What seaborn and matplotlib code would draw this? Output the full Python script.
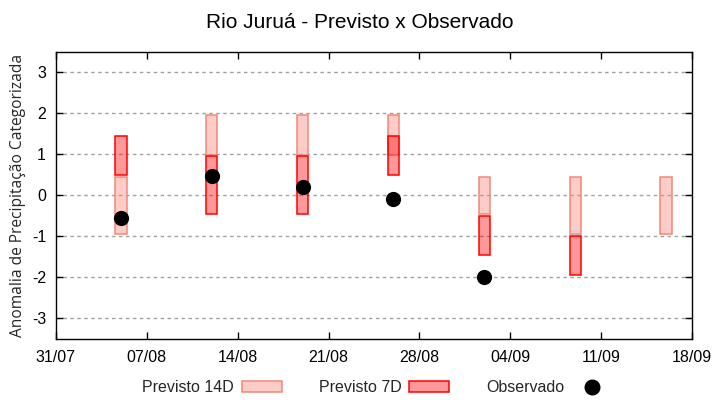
import numpy as np
import pandas as pd
import matplotlib
matplotlib.use("Agg")
import matplotlib.pyplot as plt
from matplotlib.patches import Patch
from matplotlib.lines import Line2D
import seaborn as sns

# ---- data ----
dates = ["2024-08-05", "2024-08-12", "2024-08-19", "2024-08-26",
         "2024-09-02", "2024-09-09", "2024-09-16"]
p14_low = [-0.95, 0.98, 0.98, 0.98, -0.45, -0.95, -0.95]
p14_high = [0.45, 1.95, 1.95, 1.95, 0.45, 0.45, 0.45]
p7_low = [0.50, -0.45, -0.45, 0.50, -1.45, -1.95, np.nan]
p7_high = [1.45, 0.95, 0.95, 1.45, -0.50, -1.00, np.nan]
observado = [-0.55, 0.48, 0.20, -0.10, -2.00, np.nan, np.nan]
xtick_labels = ["31/07", "07/08", "14/08", "21/08", "28/08", "04/09", "11/09", "18/09"]
xtick_dates = ["2024-07-31", "2024-08-07", "2024-08-14", "2024-08-21",
               "2024-08-28", "2024-09-04", "2024-09-11", "2024-09-18"]
yticks = [-3, -2, -1, 0, 1, 2, 3]

df = pd.DataFrame({
    "data": pd.to_datetime(dates),
    "p14_low": p14_low, "p14_high": p14_high,
    "p7_low": p7_low, "p7_high": p7_high,
    "obs": observado,
})

sns.set_theme(style="white")
plt.rcParams["font.family"] = ["Liberation Sans", "DejaVu Sans"]

fig = plt.figure(figsize=(7.2, 4.0), dpi=100)
ax = fig.add_axes([0.0774, 0.1533, 0.8841, 0.7175])

light_fill = (250/255, 128/255, 114/255, 0.4)
light_edge = "#F08878"
red_fill = (1.0, 0.0, 0.0, 0.4)
red_edge = "#FF0000"
w = 0.9

ax.bar(df["data"], df["p14_high"] - df["p14_low"], bottom=df["p14_low"], width=w,
       color=light_fill, edgecolor=light_edge, linewidth=1.1, zorder=3)
ax.bar(df["data"], df["p7_high"] - df["p7_low"], bottom=df["p7_low"], width=w,
       color=red_fill, edgecolor=red_edge, linewidth=1.1, zorder=4)
sns.scatterplot(data=df, x="data", y="obs", ax=ax, color="black", s=120,
                edgecolor="black", linewidth=0, zorder=5, legend=False)

ax.set_xlim(pd.Timestamp(xtick_dates[0]), pd.Timestamp(xtick_dates[-1]))
ax.set_ylim(-3.5, 3.5)
ax.set_xticks(pd.to_datetime(xtick_dates))
ax.set_xticklabels(xtick_labels)
ax.set_yticks(yticks)
ax.set_yticklabels([str(v) for v in yticks])
ax.set_xlabel("")
ax.set_ylabel("Anomalia de Precipitação Categorizada", fontsize=11.2, labelpad=4,
              family=["Open Sans", "DejaVu Sans"])
ax.tick_params(axis="both", direction="in", length=5, width=1, labelsize=11.5,
               top=True, right=True, bottom=True, left=True, color="black",
               labelcolor="black")
ax.tick_params(axis="x", pad=8)
ax.tick_params(axis="y", pad=7)
ax.yaxis.grid(True, color="#a0a0a0", linestyle=(0, (2.5, 2.5)), linewidth=1, zorder=0)
ax.xaxis.grid(False)
for s in ax.spines.values():
    s.set_color("black")
    s.set_linewidth(1)

fig.suptitle("Rio Juruá - Previsto x Observado", y=0.968, fontsize=15, color="black")

handles = [
    Patch(facecolor=light_fill, edgecolor=light_edge, linewidth=1.1),
    Patch(facecolor=red_fill, edgecolor=red_edge, linewidth=1.1),
    Line2D([], [], marker="o", linestyle="none", color="black", markersize=10.5),
]
labels = ["Previsto 14D", "Previsto 7D", "Observado"]
fig.legend(handles, labels, loc="center", bbox_to_anchor=(0.524, 0.031), ncol=3,
           frameon=False, markerfirst=False, fontsize=11.5, handlelength=2.5,
           handleheight=0.6, columnspacing=2.3, handletextpad=0.5)

fig.savefig("out.png", dpi=100)
